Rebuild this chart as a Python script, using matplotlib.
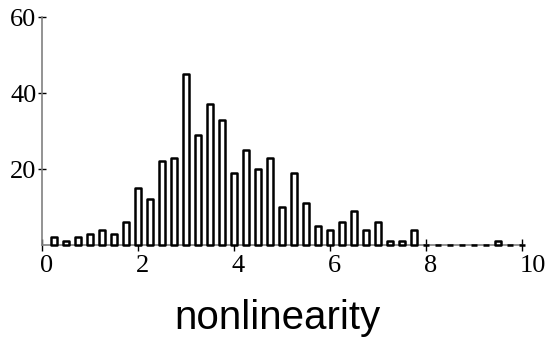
import matplotlib.pyplot as plt
from matplotlib.transforms import ScaledTranslation

# histogram of nonlinearity, bin centres every 0.25
bin_centers = [0.25 * k for k in range(1, 41)]
counts = [2, 1, 2, 3, 4, 3, 6, 15, 12, 22,
          23, 45, 29, 37, 33, 19, 25, 20, 23, 10,
          19, 11, 5, 4, 6, 9, 4, 6, 1, 1,
          4, 0, 0, 0, 0, 0, 0, 1, 0, 0]
x_ticks = [0, 2, 4, 6, 8, 10]
y_ticks = [20, 40, 60]


def main():
    fig = plt.figure(figsize=(5.46, 3.40), dpi=100)
    ax = fig.add_axes([42 / 546, 95 / 340, 480 / 546, 228 / 340])

    bars = ax.bar(bin_centers, counts, width=0.12, facecolor='white',
                  edgecolor='black', linewidth=1.8, joinstyle='round', zorder=3)
    for b in bars:
        b.set_clip_on(False)

    ax.set_xlim(0, 10)
    ax.set_ylim(0, 60)
    ax.set_xticks(x_ticks)
    ax.set_yticks(y_ticks)

    for side in ['top', 'right']:
        ax.spines[side].set_visible(False)
    ax.spines['left'].set_color('#808080')
    ax.spines['bottom'].set_color('#808080')
    ax.spines['left'].set_linewidth(1.2)
    ax.spines['bottom'].set_linewidth(1.2)

    ax.tick_params(axis='x', direction='inout', length=8, width=1,
                   pad=3, labelsize=19)
    ax.tick_params(axis='y', direction='inout', length=6, width=1,
                   pad=1, labelsize=19)
    shift = ScaledTranslation(-2 / 100, 0, fig.dpi_scale_trans)
    for lbl in ax.get_xticklabels():
        lbl.set_family('Liberation Serif')
        lbl.set_horizontalalignment('left')
        lbl.set_transform(lbl.get_transform() + shift)
    for lbl in ax.get_yticklabels():
        lbl.set_family('Liberation Serif')
        lbl.set_verticalalignment('center_baseline')

    ax.set_xlabel('nonlinearity', family='Liberation Sans', fontsize=29)
    ax.xaxis.set_label_coords((277 - 42) / 480, -0.235)
    ax.xaxis.label.set_verticalalignment('top')

    fig.savefig('out.png', dpi=100)


if __name__ == "__main__":
    main()
